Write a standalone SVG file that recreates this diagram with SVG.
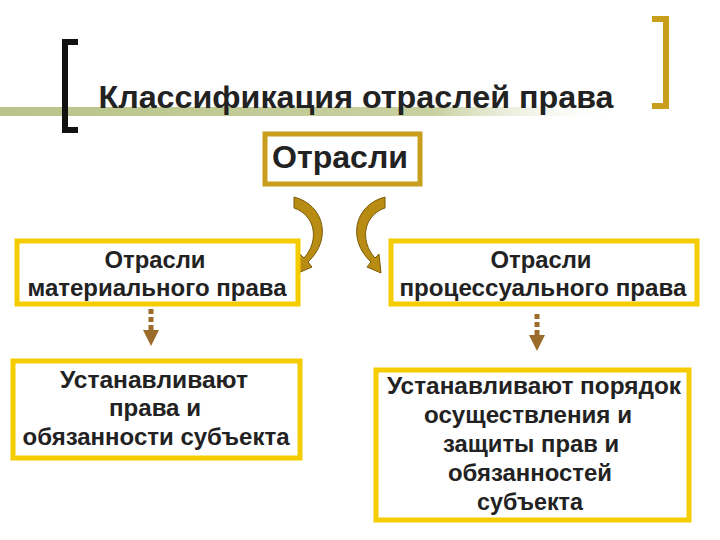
<svg xmlns="http://www.w3.org/2000/svg" width="720" height="540" viewBox="0 0 720 540">
<defs>
<style>
.t{font-family:"Liberation Sans",Arial,sans-serif;font-weight:bold;fill:#222;text-anchor:middle;font-size:24px}
.box{fill:#fff;stroke:#f5cc00;stroke-width:5}
.cbox{fill:#fff;stroke:#c89e1c;stroke-width:5}
.curv{fill:#b88c12;stroke:#7a5a08;stroke-width:1}
.dash{stroke:#9a6b2a;stroke-width:5;stroke-dasharray:5,3}
</style>
<linearGradient id="g" x1="0" x2="1"><stop offset="0" stop-color="#b8c48a"/><stop offset="0.7" stop-color="#c8d0a0"/><stop offset="1" stop-color="#fff" stop-opacity="0"/></linearGradient>
<marker id="ah" viewBox="0 0 10 10" refX="5" refY="5" markerWidth="3.2" markerHeight="3.2" orient="auto"><path d="M0,0 L10,5 L0,10z" fill="#9a6b2a"/></marker>
</defs>
<rect x="0" y="107" width="620" height="9" fill="url(#g)"/>
<path d="M78,42 H65 V130 H78" fill="none" stroke="#111" stroke-width="6"/>
<path d="M652,19 H666 V106 H652" fill="none" stroke="#c89e1c" stroke-width="6"/>
<text class="t" x="356" y="108" style="font-size:31px" textLength="515" lengthAdjust="spacingAndGlyphs">Классификация отраслей права</text>
<g id="root"><rect class="cbox" x="265" y="134" width="155" height="50"/><text class="t" x="340" y="168" style="font-size:31px" textLength="136" lengthAdjust="spacingAndGlyphs">Отрасли</text></g>
<g id="connectors">
<path class="curv" d="M294,197 C325,205 332,240 308,262 L312,267 L298,273 L300,254 L304,258 C320,240 315,215 294,208 Z"/>
<path class="curv" d="M385,197 C354,205 347,240 371,262 L367,267 L381,273 L379,254 L375,258 C359,240 364,215 385,208 Z"/>
<line class="dash" x1="151" y1="309" x2="151" y2="338" marker-end="url(#ah)"/>
<line class="dash" x1="537" y1="314" x2="537" y2="343" marker-end="url(#ah)"/>
</g>
<g id="mat"><rect class="box" x="17" y="241" width="281" height="63"/><text class="t" x="155" y="268" textLength="101" lengthAdjust="spacingAndGlyphs">Отрасли</text><text class="t" x="157" y="296" textLength="259" lengthAdjust="spacingAndGlyphs">материального права</text></g>
<g id="proc"><rect class="box" x="391" y="241" width="306" height="63"/><text class="t" x="541" y="268" textLength="101" lengthAdjust="spacingAndGlyphs">Отрасли</text><text class="t" x="543" y="296" textLength="287" lengthAdjust="spacingAndGlyphs">процессуального права</text></g>
<g id="mat2"><rect class="box" x="13" y="361" width="287" height="97"/><text class="t" x="154" y="388" textLength="188" lengthAdjust="spacingAndGlyphs">Устанавливают</text><text class="t" x="155" y="416" textLength="92" lengthAdjust="spacingAndGlyphs">права и</text><text class="t" x="156" y="445" textLength="267" lengthAdjust="spacingAndGlyphs">обязанности субъекта</text></g>
<g id="proc2"><rect class="box" x="376" y="370" width="313" height="150"/><text class="t" x="534" y="394" textLength="294" lengthAdjust="spacingAndGlyphs">Устанавливают порядок</text><text class="t" x="528" y="423" textLength="208" lengthAdjust="spacingAndGlyphs">осуществления и</text><text class="t" x="531" y="452" textLength="176" lengthAdjust="spacingAndGlyphs">защиты прав и</text><text class="t" x="530" y="481" textLength="164" lengthAdjust="spacingAndGlyphs">обязанностей</text><text class="t" x="530" y="510" textLength="106" lengthAdjust="spacingAndGlyphs">субъекта</text></g>
</svg>
